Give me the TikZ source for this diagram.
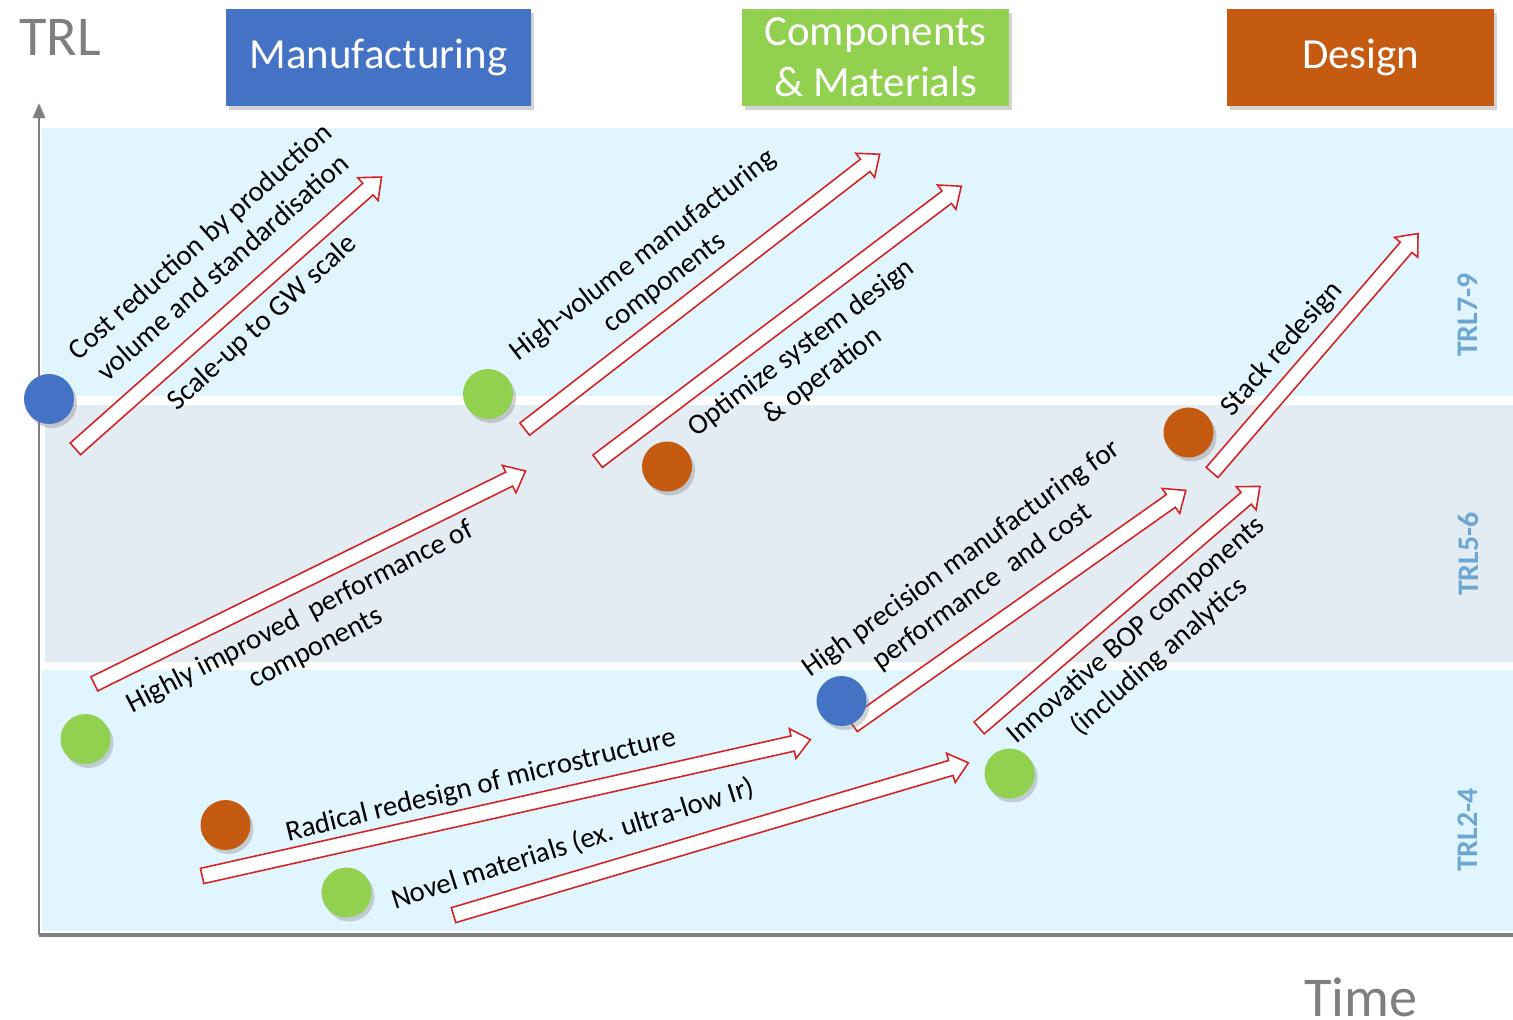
\documentclass[tikz,border=0pt]{standalone}
\usepackage{fontspec}
\setmainfont{Carlito}
\usetikzlibrary{shapes.arrows,shadows,arrows.meta}
\definecolor{mfgblue}{RGB}{68,114,196}
\definecolor{cmgreen}{RGB}{146,208,80}
\definecolor{dsgorange}{RGB}{197,90,17}
\definecolor{bandblue}{RGB}{225,245,254}
\definecolor{bandgrey}{RGB}{227,235,243}
\definecolor{axisgrey}{RGB}{127,127,127}
\definecolor{trlblue}{RGB}{110,166,210}
\definecolor{arrowred}{RGB}{210,36,36}
\begin{document}
\begin{tikzpicture}[x=0.02cm,y=-0.02cm,
    header/.style={rectangle,minimum height=1.94cm,text=white,align=center,
      font=\fontsize{24.4}{29}\selectfont,
      drop shadow={shadow xshift=0.06cm,shadow yshift=-0.07cm,opacity=0.35}},
    dot/.style={circle,minimum size=1cm,inner sep=0pt,
      drop shadow={shadow xshift=0.06cm,shadow yshift=-0.08cm,opacity=0.35}},
    bigarrow/.style={single arrow,draw=arrowred,fill=white,line width=0.9pt,
      inner xsep=0pt,inner ysep=0.14cm,single arrow head extend=0.15cm,
      single arrow tip angle=80},
    lbl/.style={align=center,inner sep=0pt,font=\fontsize{16.4}{19.8}\selectfont},
    axislbl/.style={text=axisgrey,inner sep=0pt,font=\fontsize{32}{36}\selectfont},
    trl/.style={rotate=90,text=trlblue,inner sep=0pt,font=\fontsize{17}{20}\selectfont\bfseries}]
  \useasboundingbox (0,0) rectangle (1513,1019);
  % TRL bands
  \fill[bandblue] (42,128) rectangle (1513,396);
  \fill[bandgrey] (45,405) rectangle (1513,662);
  \fill[bandblue] (42,670) rectangle (1513,931);
  % axes
  \coordinate (origin) at (39,935);
  \coordinate (ytop) at (39,103);
  \coordinate (xend) at (1513,935);
  \draw[axisgrey,line width=1.7pt,-{Triangle[width=0.24cm,length=0.3cm]}] (origin) -- (ytop);
  \draw[axisgrey,line width=2pt] (origin) -- (xend);
  \node[axislbl] (trlaxis) at (60,37) {TRL};
  \node[axislbl] (time) at (1361,997) {Time};
  % headers
  \node[header,fill=mfgblue,minimum width=6.1cm] (manuf) at (378.5,57.5) {Manufacturing};
  \node[header,fill=cmgreen,minimum width=5.34cm] (compmat) at (875.5,57.5) {Components\\\& Materials};
  \node[header,fill=dsgorange,minimum width=5.34cm] (design) at (1360.5,57.5) {Design};
  \node[trl] (trl79) at (1468,315) {TRL7-9};
  \node[trl] (trl56) at (1468,554) {TRL5-6};
  \node[trl] (trl24) at (1468,830) {TRL2-4};
  % arrows
  \node[bigarrow,minimum height=8.19cm,rotate=41.6] (costA) at (225,316) {};
  \node[bigarrow,minimum height=8.98cm,rotate=37.76] (hvolA) at (698.5,294.5) {};
  \node[bigarrow,minimum height=9.12cm,rotate=37.1] (optA) at (775.75,326.5) {};
  \node[bigarrow,minimum height=9.62cm,rotate=26.27] (perfA) at (305.75,579.5) {};
  \node[bigarrow,minimum height=8.15cm,rotate=35.2] (precA) at (1015.5,610.5) {};
  \node[bigarrow,minimum height=7.41cm,rotate=40.7] (bopA) at (1116,610.2) {};
  \node[bigarrow,minimum height=6.31cm,rotate=49.24] (stackA) at (1312,356.5) {};
  \node[bigarrow,minimum height=12.47cm,rotate=12.64] (radA) at (501.75,808.75) {};
  \node[bigarrow,minimum height=10.74cm,rotate=16.49] (novA) at (706.5,840.25) {};
  % dots
  \node[dot,fill=mfgblue] (m1) at (49,399) {};
  \node[dot,fill=mfgblue] (m2) at (841.5,701) {};
  \node[dot,fill=cmgreen] (c1) at (488,394) {};
  \node[dot,fill=cmgreen] (c2) at (85.5,739) {};
  \node[dot,fill=cmgreen] (c3) at (346.5,892.5) {};
  \node[dot,fill=cmgreen] (c4) at (1009.5,773.5) {};
  \node[dot,fill=dsgorange] (d1) at (667,466.5) {};
  \node[dot,fill=dsgorange] (d2) at (225.5,825) {};
  \node[dot,fill=dsgorange] (d3) at (1188.5,432.5) {};
  % labels
  \node[lbl,rotate=41.5] (costL) at (211,254) {Cost reduction by production\\volume and standardisation};
  \node[lbl,rotate=42.5] (scaleL) at (263,323) {Scale-up to GW scale};
  \node[lbl,rotate=37.6] (hvolL) at (654,269) {High-volume manufacturing\\components};
  \node[lbl,rotate=37] (optL) at (812,362) {Optimize system design\\\& operation};
  \node[lbl,rotate=27.4] (perfL) at (308,633) {Highly improved~ performance of\\components};
  \node[lbl,rotate=35.9] (precL) at (972,573) {High precision manufacturing for\\performance~ and cost};
  \node[lbl,rotate=41] (bopL) at (1148,644) {Innovative BOP components\\(including analytics};
  \node[lbl,rotate=48.7] (stackL) at (1282,349) {Stack redesign};
  \node[lbl,rotate=13.8] (radL) at (481,786) {Radical redesign of microstructure};
  \node[lbl,rotate=17.5] (novL) at (573,844) {Novel materials (ex. ultra-low Ir)};
\end{tikzpicture}
\end{document}
